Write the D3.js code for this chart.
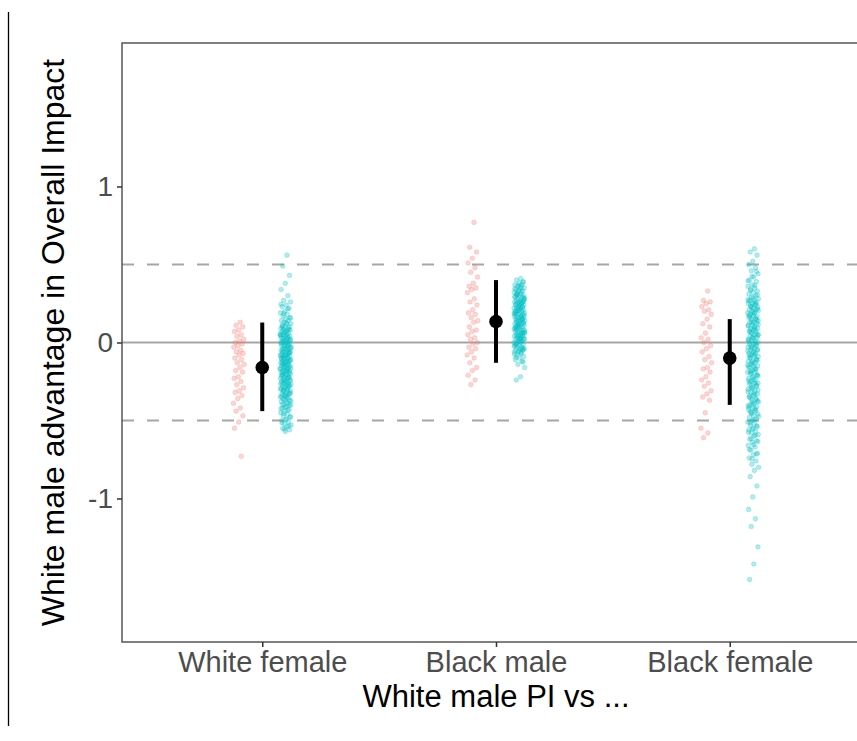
<!DOCTYPE html>
<html lang="en">
<head>
    <meta charset="utf-8">
    <script src="https://d3js.org/d3.v7.min.js"></script>
</head>
<style>
    body { margin: 0; background: #fff; }
    text { font-family: "Liberation Sans", Arial, sans-serif; }
</style>
<body>
<script>
    const w = 857
    const h = 741

    // categories + tick labels
    const groups = ["White female", "Black male", "Black female"]
    const yTicks = [-1, 0, 1]
    const refLines = [-0.5, 0.5]

    // group means and intervals (black dot + bar)
    const means = [-0.16, 0.135, -0.10]
    const lower = [-0.44, -0.13, -0.40]
    const upper = [0.128, 0.40, 0.15]

    // individual points, red series (left of each group)
    const redWF = [0.13, 0.11, 0.10, 0.08, 0.07, 0.05, 0.04, 0.02, 0.01, 0.0, -0.01, -0.02, -0.03, -0.05, -0.06, -0.07,
        -0.08, -0.10, -0.11, -0.13, -0.14, -0.16, -0.18, -0.19, -0.22, -0.23, -0.25, -0.27, -0.29, -0.31, -0.32, -0.34,
        -0.36, -0.39, -0.42, -0.44, -0.47, -0.51, -0.55, -0.73]
    const redBM = [0.77, 0.61, 0.58, 0.54, 0.51, 0.48, 0.45, 0.42, 0.38, 0.36, 0.35, 0.34, 0.32, 0.28, 0.26, 0.24, 0.21,
        0.19, 0.18, 0.16, 0.14, 0.13, 0.10, 0.08, 0.07, 0.05, 0.03, 0.02, 0.0, -0.01, -0.03, -0.04, -0.06, -0.08, -0.10,
        -0.13, -0.16, -0.18, -0.21, -0.24, -0.27]
    const redBF = [0.33, 0.27, 0.26, 0.25, 0.23, 0.21, 0.20, 0.18, 0.15, 0.12, 0.10, 0.06, 0.03, 0.02, 0.0, -0.02, -0.04,
        -0.06, -0.09, -0.11, -0.13, -0.16, -0.17, -0.19, -0.22, -0.24, -0.26, -0.28, -0.31, -0.33, -0.35, -0.37, -0.45,
        -0.55, -0.58, -0.61]

    // individual points, teal series (right of each group)
    const tealWF = [0.56, 0.49, 0.43, 0.38, 0.34, 0.30, 0.27, 0.26, 0.24, 0.23, 0.22, 0.20, 0.19, 0.18, 0.17, 0.16, 0.15,
        0.14, 0.14, 0.13, 0.12, 0.12, 0.11, 0.10, 0.10, 0.09, 0.09, 0.08, 0.08, 0.07, 0.07, 0.06, 0.06, 0.05, 0.05, 0.05,
        0.04, 0.04, 0.03, 0.03, 0.03, 0.02, 0.02, 0.01, 0.01, 0.01, 0.00, 0.00, 0.00, -0.01, -0.01, -0.02, -0.02, -0.02,
        -0.03, -0.03, -0.04, -0.04, -0.04, -0.05, -0.05, -0.06, -0.06, -0.06, -0.07, -0.07, -0.08, -0.08, -0.08, -0.09,
        -0.09, -0.10, -0.10, -0.10, -0.11, -0.11, -0.12, -0.12, -0.12, -0.13, -0.13, -0.14, -0.14, -0.15, -0.15, -0.15,
        -0.16, -0.16, -0.17, -0.17, -0.18, -0.18, -0.18, -0.19, -0.19, -0.20, -0.20, -0.21, -0.21, -0.22, -0.22, -0.23,
        -0.23, -0.24, -0.24, -0.25, -0.25, -0.26, -0.26, -0.27, -0.27, -0.28, -0.28, -0.29, -0.30, -0.30, -0.31, -0.31,
        -0.32, -0.33, -0.33, -0.34, -0.35, -0.35, -0.36, -0.37, -0.37, -0.38, -0.39, -0.40, -0.40, -0.41, -0.42, -0.43,
        -0.44, -0.45, -0.46, -0.47, -0.48, -0.49, -0.50, -0.51, -0.52, -0.53, -0.54, -0.55, -0.56, -0.57,
        0.245, 0.215, 0.185, 0.155, 0.125, 0.105, 0.085, 0.065, 0.045, 0.035, 0.025, 0.015, 0.005, -0.005, -0.015, -0.025,
        -0.035, -0.045, -0.055, -0.065, -0.075, -0.085, -0.095, -0.105, -0.115, -0.125, -0.135, -0.145, -0.155, -0.165,
        -0.175, -0.185, -0.195, -0.205, -0.215, -0.225, -0.235, -0.245, -0.255, -0.265, -0.275, -0.285, -0.295, -0.305,
        -0.315, -0.325, -0.335, -0.345, -0.355, -0.365, -0.375, -0.385, -0.395, -0.405, -0.415, -0.425, -0.435, -0.455,
        -0.475, -0.495, -0.515, -0.535, -0.555, 0.055, 0.075, 0.095, -0.065, -0.085, -0.105, -0.125, -0.145, -0.165,
        -0.185, -0.205, -0.225, -0.245, -0.265, -0.285, -0.305, -0.325, -0.345]
    const tealBM = [0.41, 0.40, 0.39, 0.38, 0.37, 0.37, 0.36, 0.35, 0.35, 0.34, 0.33, 0.33, 0.32, 0.31, 0.31, 0.30, 0.30,
        0.29, 0.29, 0.28, 0.28, 0.27, 0.27, 0.26, 0.26, 0.26, 0.25, 0.25, 0.24, 0.24, 0.24, 0.23, 0.23, 0.22, 0.22, 0.22,
        0.21, 0.21, 0.20, 0.20, 0.20, 0.19, 0.19, 0.18, 0.18, 0.18, 0.17, 0.17, 0.16, 0.16, 0.16, 0.15, 0.15, 0.14, 0.14,
        0.14, 0.13, 0.13, 0.12, 0.12, 0.12, 0.11, 0.11, 0.10, 0.10, 0.10, 0.09, 0.09, 0.08, 0.08, 0.08, 0.07, 0.07, 0.06,
        0.06, 0.06, 0.05, 0.05, 0.04, 0.04, 0.04, 0.03, 0.03, 0.02, 0.02, 0.02, 0.01, 0.01, 0.00, 0.00, -0.01, -0.01,
        -0.02, -0.02, -0.03, -0.03, -0.04, -0.04, -0.05, -0.05, -0.06, -0.06, -0.07, -0.08, -0.09, -0.10, -0.11, -0.12,
        -0.14, -0.16, -0.22, -0.24,
        0.385, 0.365, 0.345, 0.325, 0.305, 0.285, 0.265, 0.245, 0.225, 0.205, 0.185, 0.165, 0.145, 0.125, 0.105, 0.085,
        0.065, 0.045, 0.025, 0.005, -0.015, -0.035, -0.055, -0.075, 0.355, 0.315, 0.275, 0.235, 0.195, 0.155, 0.115,
        0.075, 0.035, -0.005, -0.045, 0.335, 0.295, 0.255, 0.215, 0.175, 0.135, 0.095, 0.055, 0.015, -0.025, -0.065,
        0.305, 0.265, 0.225, 0.185, 0.145, 0.105, 0.065, 0.025, -0.095, -0.125]
    const tealBF = [0.60, 0.58, 0.56, 0.52, 0.50, 0.48, 0.46, 0.44, 0.42, 0.40, 0.39, 0.37, 0.36, 0.35, 0.34, 0.33, 0.32,
        0.31, 0.30, 0.29, 0.28, 0.27, 0.27, 0.26, 0.25, 0.25, 0.24, 0.23, 0.23, 0.22, 0.21, 0.21, 0.20, 0.19, 0.19, 0.18,
        0.17, 0.17, 0.16, 0.15, 0.15, 0.14, 0.13, 0.13, 0.12, 0.11, 0.11, 0.10, 0.09, 0.09, 0.08, 0.07, 0.07, 0.06, 0.05,
        0.05, 0.04, 0.03, 0.03, 0.02, 0.01, 0.01, 0.00, -0.01, -0.01, -0.02, -0.03, -0.03, -0.04, -0.05, -0.05, -0.06,
        -0.07, -0.07, -0.08, -0.09, -0.09, -0.10, -0.11, -0.12, -0.12, -0.13, -0.14, -0.15, -0.15, -0.16, -0.17, -0.18,
        -0.19, -0.19, -0.20, -0.21, -0.22, -0.23, -0.24, -0.25, -0.26, -0.26, -0.27, -0.28, -0.29, -0.30, -0.31, -0.32,
        -0.33, -0.34, -0.35, -0.36, -0.37, -0.38, -0.39, -0.40, -0.41, -0.42, -0.43, -0.44, -0.45, -0.46, -0.47, -0.48,
        -0.49, -0.50, -0.51, -0.52, -0.53, -0.54, -0.55, -0.56, -0.57, -0.58, -0.59, -0.60, -0.62, -0.63, -0.64, -0.66,
        -0.67, -0.69, -0.71, -0.72, -0.74, -0.76, -0.78, -0.80, -0.82, -0.86, -0.92, -0.99, -1.07, -1.13, -1.18, -1.31,
        -1.42, -1.52,
        0.455, 0.425, 0.395, 0.365, 0.335, 0.305, 0.285, 0.265, 0.245, 0.225, 0.205, 0.185, 0.165, 0.145, 0.125, 0.105,
        0.085, 0.065, 0.045, 0.025, 0.005, -0.015, -0.035, -0.055, -0.075, -0.095, -0.115, -0.135, -0.155, -0.175,
        -0.195, -0.215, -0.235, -0.255, -0.275, -0.295, -0.315, -0.335, -0.355, -0.375, -0.395, -0.415, -0.435, -0.455,
        -0.475, -0.495, -0.515, -0.535, -0.555, -0.575, -0.595, -0.615, -0.635, -0.655, -0.685, -0.715, -0.745, 0.275,
        0.255, 0.235, 0.215, 0.195, 0.175, 0.155, 0.135, 0.115, 0.095, 0.075, 0.055, 0.035, 0.015, -0.005, -0.025,
        -0.045, -0.065, -0.085, -0.105, -0.125, -0.145, -0.165, -0.185, -0.205, -0.225, -0.245, -0.265, -0.285, -0.305,
        -0.325, -0.345, -0.365, -0.385, -0.405, -0.425, -0.445]

    const redSets = [redWF, redBM, redBF]
    const tealSets = [tealWF, tealBM, tealBF]

    const svg = d3.select("body")
        .append("svg")
        .attr("width", w)
        .attr("height", h)

    // panel runs off the right edge of the picture
    const pLeft = 122, pRight = 870, pTop = 43, pBottom = 642

    const x = d3.scalePoint()
        .domain(groups)
        .range([pLeft, pRight])
        .padding(0.6)

    const y = d3.scaleLinear()
        .domain([-1.92, 1.92])
        .range([pBottom, pTop])

    const dodge = x.step() * 0.1
    const jitterW = 11

    // stray vertical rule at far left
    svg.append("line")
        .attr("x1", 8.5).attr("x2", 8.5)
        .attr("y1", 12).attr("y2", 726)
        .attr("stroke", "#000")
        .attr("stroke-width", 1.3)

    // reference lines
    svg.append("line")
        .attr("x1", pLeft).attr("x2", w)
        .attr("y1", y(0)).attr("y2", y(0))
        .attr("stroke", "#a6a6a6")
        .attr("stroke-width", 2)

    svg.selectAll(".ref")
        .data(refLines)
        .enter()
        .append("line")
        .attr("x1", pLeft).attr("x2", w)
        .attr("y1", d => y(d)).attr("y2", d => y(d))
        .attr("stroke", "#a6a6a6")
        .attr("stroke-width", 2)
        .attr("stroke-dasharray", "12,13")

    // points: jitter offset from a fixed low-discrepancy sequence
    const jit = i => ((i * 0.6180339) % 1) - 0.5

    function addPoints(sets, side, color) {
        sets.forEach((vals, g) => {
            svg.append("g")
                .selectAll("circle")
                .data(vals)
                .enter()
                .append("circle")
                .attr("cx", (d, i) => x(groups[g]) + side * dodge + jit(i + 1) * jitterW)
                .attr("cy", d => y(d))
                .attr("r", 2.3)
                .attr("fill", color)
                .attr("fill-opacity", 0.3)
                .attr("stroke", color)
                .attr("stroke-opacity", 0.3)
                .attr("stroke-width", 0.8)
        })
    }
    addPoints(redSets, -1, "#F8766D")
    addPoints(tealSets, 1, "#00BFC4")

    // mean + interval
    svg.selectAll(".bar")
        .data(groups)
        .enter()
        .append("line")
        .attr("x1", d => x(d)).attr("x2", d => x(d))
        .attr("y1", (d, i) => y(upper[i]))
        .attr("y2", (d, i) => y(lower[i]))
        .attr("stroke", "#000")
        .attr("stroke-width", 4)

    svg.selectAll(".mean")
        .data(groups)
        .enter()
        .append("circle")
        .attr("cx", d => x(d))
        .attr("cy", (d, i) => y(means[i]))
        .attr("r", 6.8)
        .attr("fill", "#000")

    // panel border (left, top, bottom)
    svg.append("path")
        .attr("d", `M${w},${pTop}H${pLeft}V${pBottom}H${w}`)
        .attr("fill", "none")
        .attr("stroke", "#555")
        .attr("stroke-width", 1.5)

    // y axis
    const yAxis = svg.append("g")
        .attr("transform", `translate(${pLeft},0)`)
        .call(d3.axisLeft(y).tickValues(yTicks).tickSize(5).tickFormat(d => String(d)))
    yAxis.select(".domain").remove()
    yAxis.selectAll("line").attr("stroke", "#333").attr("stroke-width", 1.5)
    yAxis.selectAll("text")
        .attr("font-size", 28)
        .attr("fill", "#4d4d4d")
        .attr("x", -9)
        .attr("font-family", "Liberation Sans, Arial, sans-serif")

    // x axis
    const xAxis = svg.append("g")
        .attr("transform", `translate(0,${pBottom})`)
        .call(d3.axisBottom(x).tickSize(5))
    xAxis.select(".domain").remove()
    xAxis.selectAll("line").attr("stroke", "#333").attr("stroke-width", 1.5)
    xAxis.selectAll("text")
        .attr("font-size", 29)
        .attr("fill", "#4d4d4d")
        .attr("y", 9)
        .attr("font-family", "Liberation Sans, Arial, sans-serif")

    // titles
    svg.append("text")
        .attr("x", x(groups[1]))
        .attr("y", 707)
        .attr("text-anchor", "middle")
        .attr("font-size", 31)
        .attr("fill", "#000")
        .text("White male PI vs ...")

    svg.append("text")
        .attr("transform", `translate(64,${(pTop + pBottom) / 2}) rotate(-90)`)
        .attr("text-anchor", "middle")
        .attr("font-size", 32)
        .attr("fill", "#000")
        .text("White male advantage in Overall Impact")
</script>
</body>
</html>
